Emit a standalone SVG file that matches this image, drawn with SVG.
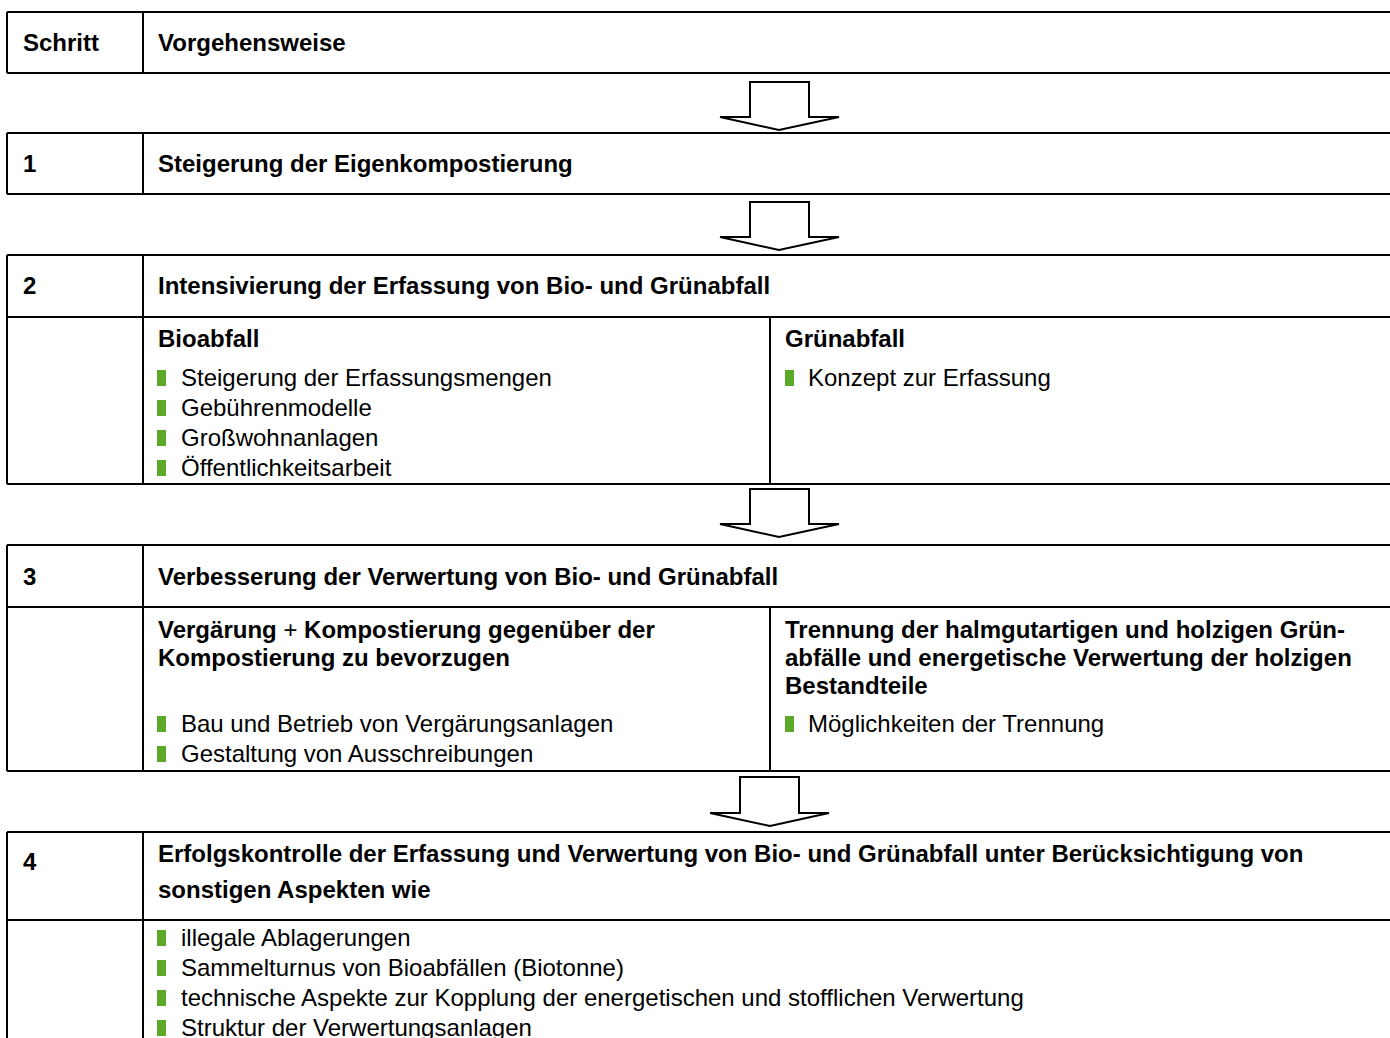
<svg xmlns="http://www.w3.org/2000/svg" width="1390" height="1038" viewBox="0 0 1390 1038">
<style>
.b{font-family:"Liberation Sans",Arial,sans-serif;font-weight:bold;font-size:24px;fill:#000}
.r{font-family:"Liberation Sans",Arial,sans-serif;font-size:24px;fill:#000}
.ln{stroke:#000;stroke-width:2;fill:none}
.ar{stroke:#000;stroke-width:2;fill:#fff;stroke-linejoin:miter}
.bu{fill:#5aaa28}
</style>
<rect width="1390" height="1038" fill="#fff"/>
<g id="table-lines" class="ln">
<path d="M7 12H1392M7 73H1392M7 12V73M143 12V73"/>
<path d="M7 133H1392M7 194H1392M7 133V194M143 133V194"/>
<path d="M7 255H1392M7 317H1392M7 484H1392M7 255V484M143 255V484M770 317V484"/>
<path d="M7 545H1392M7 607H1392M7 771H1392M7 545V771M143 545V771M770 607V771"/>
<path d="M7 832H1392M7 920H1392M7 832V1040M143 832V1040"/>
</g>
<g id="connectors">
<polygon class="ar" points="750,82 809,82 809,117 839,117 779,130 720,117 750,117"/>
<polygon class="ar" points="750,202 809,202 809,237 839,237 779,250 720,237 750,237"/>
<polygon class="ar" points="750,489 809,489 809,524 839,524 779,537 720,524 750,524"/>
<polygon class="ar" points="740,777 799,777 799,813 829,813 770,826 710,813 740,813"/>
</g>
<g id="header">
<text class="b" x="23" y="51">Schritt</text>
<text class="b" x="158" y="51">Vorgehensweise</text>
</g>
<g id="step1">
<text class="b" x="23" y="172">1</text>
<text class="b" x="158" y="172">Steigerung der Eigenkompostierung</text>
</g>
<g id="step2">
<text class="b" x="23" y="294">2</text>
<text class="b" x="158" y="294">Intensivierung der Erfassung von Bio- und Grünabfall</text>
<text class="b" x="158" y="347">Bioabfall</text>
<rect class="bu" x="157" y="370" width="9" height="16"/>
<text class="r" x="181" y="386">Steigerung der Erfassungsmengen</text>
<rect class="bu" x="157" y="400" width="9" height="16"/>
<text class="r" x="181" y="416">Gebührenmodelle</text>
<rect class="bu" x="157" y="430" width="9" height="16"/>
<text class="r" x="181" y="446">Großwohnanlagen</text>
<rect class="bu" x="157" y="460" width="9" height="16"/>
<text class="r" x="181" y="476">Öffentlichkeitsarbeit</text>
<text class="b" x="785" y="347">Grünabfall</text>
<rect class="bu" x="785" y="370" width="9" height="16"/>
<text class="r" x="808" y="386">Konzept zur Erfassung</text>
</g>
<g id="step3">
<text class="b" x="23" y="585">3</text>
<text class="b" x="158" y="585">Verbesserung der Verwertung von Bio- und Grünabfall</text>
<text class="b" x="158" y="638">Vergärung <tspan font-weight="normal">+</tspan> Kompostierung gegenüber der</text>
<text class="b" x="158" y="666">Kompostierung zu bevorzugen</text>
<rect class="bu" x="157" y="716" width="9" height="16"/>
<text class="r" x="181" y="732">Bau und Betrieb von Vergärungsanlagen</text>
<rect class="bu" x="157" y="746" width="9" height="16"/>
<text class="r" x="181" y="762">Gestaltung von Ausschreibungen</text>
<text class="b" x="785" y="638">Trennung der halmgutartigen und holzigen Grün-</text>
<text class="b" x="785" y="666">abfälle und energetische Verwertung der holzigen</text>
<text class="b" x="785" y="694">Bestandteile</text>
<rect class="bu" x="785" y="716" width="9" height="16"/>
<text class="r" x="808" y="732">Möglichkeiten der Trennung</text>
</g>
<g id="step4">
<text class="b" x="23" y="870">4</text>
<text class="b" x="158" y="862">Erfolgskontrolle der Erfassung und Verwertung von Bio- und Grünabfall unter Berücksichtigung von</text>
<text class="b" x="158" y="898">sonstigen Aspekten wie</text>
<rect class="bu" x="157" y="930" width="9" height="16"/>
<text class="r" x="181" y="946">illegale Ablagerungen</text>
<rect class="bu" x="157" y="960" width="9" height="16"/>
<text class="r" x="181" y="976">Sammelturnus von Bioabfällen (Biotonne)</text>
<rect class="bu" x="157" y="990" width="9" height="16"/>
<text class="r" x="181" y="1006">technische Aspekte zur Kopplung der energetischen und stofflichen Verwertung</text>
<rect class="bu" x="157" y="1020" width="9" height="16"/>
<text class="r" x="181" y="1036">Struktur der Verwertungsanlagen</text>
</g>
</svg>
